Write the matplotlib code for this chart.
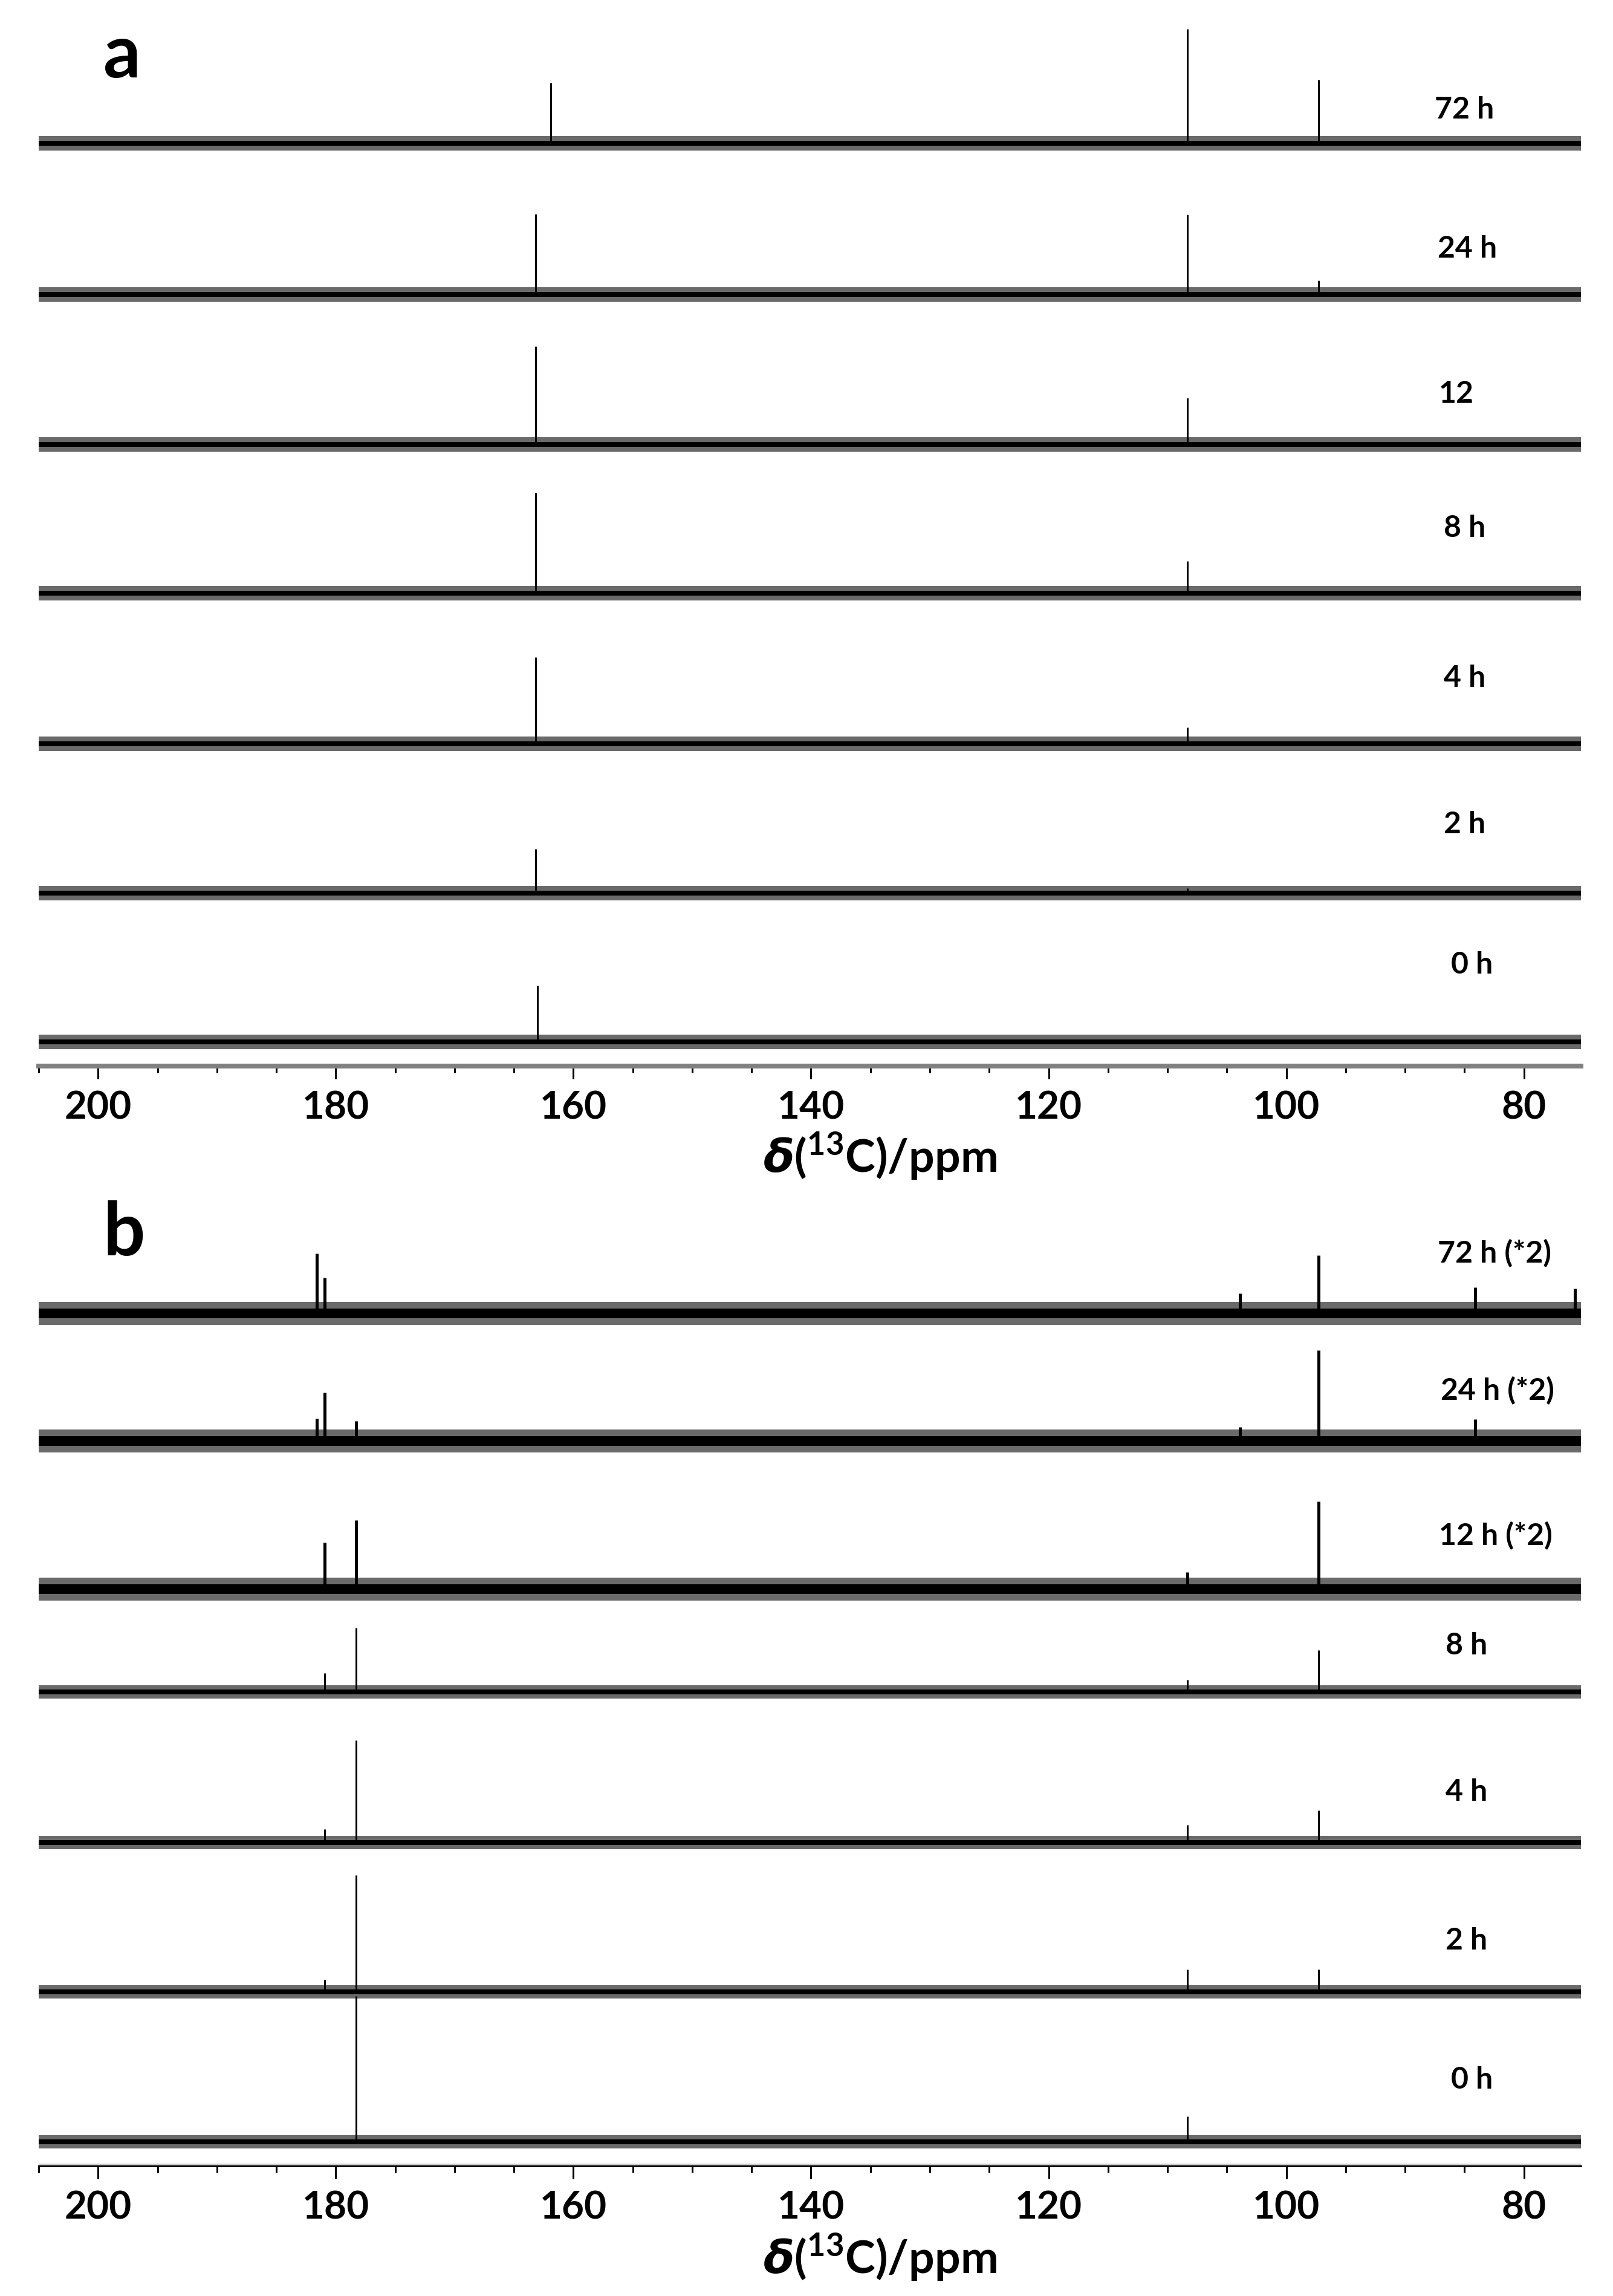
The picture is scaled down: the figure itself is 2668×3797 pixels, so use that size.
import matplotlib
matplotlib.use('Agg')
import matplotlib.pyplot as plt
from matplotlib.ticker import MultipleLocator

plt.rcParams['font.family'] = ['Lato', 'DejaVu Sans']
plt.rcParams['font.weight'] = 'bold'
plt.rcParams['mathtext.fontset'] = 'custom'
plt.rcParams['mathtext.it'] = 'DejaVu Sans:italic:bold'
plt.rcParams['mathtext.bf'] = 'Lato:bold'
plt.rcParams['mathtext.rm'] = 'Lato:bold'
plt.rcParams['hatch.linewidth'] = 0.8

# ---------------- data ----------------
A_LABELS = ['72 h', '24 h', '12', '8 h', '4 h', '2 h', '0 h']
A_PEAK_PPM = [[161.9, 108.3, 97.3],
              [163.2, 108.3, 97.3],
              [163.2, 108.3],
              [163.2, 108.3],
              [163.2, 108.3],
              [163.2, 108.3],
              [163.0]]
A_PEAK_INT = [[100, 189, 105],
              [133, 132, 23],
              [162, 77],
              [166, 53],
              [143, 27],
              [73, 8],
              [93]]

B_LABELS = ['72 h (*2)', '24 h (*2)', '12 h (*2)', '8 h', '4 h', '2 h', '0 h']
B_PEAK_PPM = [[181.6, 180.95, 103.9, 97.3, 84.1, 75.7],
              [181.6, 180.95, 178.3, 103.9, 97.3, 84.1],
              [180.95, 178.3, 108.3, 97.3],
              [180.95, 178.3, 108.3, 97.3],
              [180.95, 178.3, 108.3, 97.3],
              [180.95, 178.3, 108.3, 97.3],
              [178.3, 108.3]]
B_PEAK_INT = [[99, 59, 33, 96, 43, 41],
              [37, 80, 33, 23, 150, 36],
              [77, 114, 28, 145],
              [31, 106, 20, 69],
              [22, 169, 29, 53],
              [20, 193, 37, 37],
              [241, 42]]

TICK_MAJOR = [200, 180, 160, 140, 120, 100, 80]
X_LABEL = r'$\mathit{\delta}$($^{\mathbf{13}}$C)/ppm'

# ---------------- layout (figure pixels) ----------------
W, H, DPI = 2668, 3797, 100
PT = 72.0 / DPI
XLEFT, XRIGHT = 205.0, 75.2
AX_L, AX_R = 64, 2615

A_TOP, A_AXIS = 0, 1763
A_BASE = [237, 487, 735, 981, 1230, 1477, 1723]
A_LAB_XY = [(2373, 182), (2378, 412), (2380, 651), (2388, 874),
            (2388, 1121), (2388, 1363), (2400, 1596)]
A_NOISE = [(4, 12)] * 7
A_PEAK_LW = [3] * 7

B_TOP, B_AXIS = 1900, 3582
B_BASE = [2172, 2383, 2628, 2798, 3047, 3294, 3542]
B_LAB_XY = [(2378, 2073), (2383, 2300), (2380, 2540), (2391, 2721),
            (2391, 2964), (2391, 3209), (2400, 3439)]
# noise band half widths (core, fuzz) and peak line width, per trace
B_NOISE = [(8, 19), (8, 19), (8, 19), (4, 11), (4, 11), (4, 11), (4, 11)]
B_PEAK_LW = [5, 5, 5, 3, 3, 3, 3]

fig = plt.figure(figsize=(W / DPI, H / DPI), dpi=DPI)


def px_rect(left, right, top, bottom):
    return [left / W, 1 - bottom / H, (right - left) / W, (bottom - top) / H]


def draw_panel(top, axis, bases, ppms, ints, noise, peak_lw, spine_color, spine_px):
    ax = fig.add_axes(px_rect(AX_L, AX_R, top, axis))
    ax.set_xlim(XLEFT, XRIGHT)
    ax.set_ylim(0, axis - top)
    for i, base in enumerate(bases):
        off = axis - base
        core, fuzz = noise[i]
        ax.fill_between([XLEFT, XRIGHT], off - fuzz, off + fuzz,
                        facecolor='none', edgecolor='#6a6a6a',
                        hatch='|' * 16, linewidth=0)
        ax.fill_between([XLEFT, XRIGHT], off - core, off + core,
                        facecolor='black', edgecolor='none', linewidth=0)
        ax.vlines(ppms[i], off, [off + v for v in ints[i]],
                  color='black', lw=peak_lw[i] * PT)
    for s in ['left', 'right', 'top']:
        ax.spines[s].set_visible(False)
    ax.spines['bottom'].set_color(spine_color)
    ax.spines['bottom'].set_linewidth(spine_px * PT)
    ax.set_yticks([])
    ax.xaxis.set_minor_locator(MultipleLocator(5))
    ax.set_xticks(TICK_MAJOR)
    ax.set_xticklabels([str(t) for t in TICK_MAJOR])
    ax.tick_params(axis='x', which='major', direction='out', length=21 * PT,
                   width=3 * PT, color='black', pad=20 * PT, labelsize=46)
    ax.tick_params(axis='x', which='minor', direction='out', length=11 * PT,
                   width=3 * PT, color='black')
    for lab in ax.get_xticklabels():
        lab.set_fontweight('bold')
    return ax


axa = draw_panel(A_TOP, A_AXIS, A_BASE, A_PEAK_PPM, A_PEAK_INT,
                 A_NOISE, A_PEAK_LW, '#808080', 8)
axb = draw_panel(B_TOP, B_AXIS, B_BASE, B_PEAK_PPM, B_PEAK_INT,
                 B_NOISE, B_PEAK_LW, 'black', 3)
axb.axhline(3, color='#d0d0d0', lw=3 * PT, zorder=0)

for (x, y), lab in zip(A_LAB_XY, A_LABELS):
    fig.text(x / W, 1 - y / H, lab, ha='left', va='center', fontsize=36, fontweight='bold')
for (x, y), lab in zip(B_LAB_XY, B_LABELS):
    fig.text(x / W, 1 - y / H, lab, ha='left', va='center', fontsize=36, fontweight='bold')

fig.text(171 / W, 1 - 128 / H, 'a', ha='left', va='baseline', fontsize=88, fontweight='bold')
fig.text(171 / W, 1 - 2076 / H, 'b', ha='left', va='baseline', fontsize=88, fontweight='bold')

fig.text(1455 / W, 1 - 1912 / H, X_LABEL, ha='center', va='center', fontsize=54, fontweight='bold')
fig.text(1455 / W, 1 - 3733 / H, X_LABEL, ha='center', va='center', fontsize=54, fontweight='bold')

fig.savefig('out.png', dpi=DPI, facecolor='white')
